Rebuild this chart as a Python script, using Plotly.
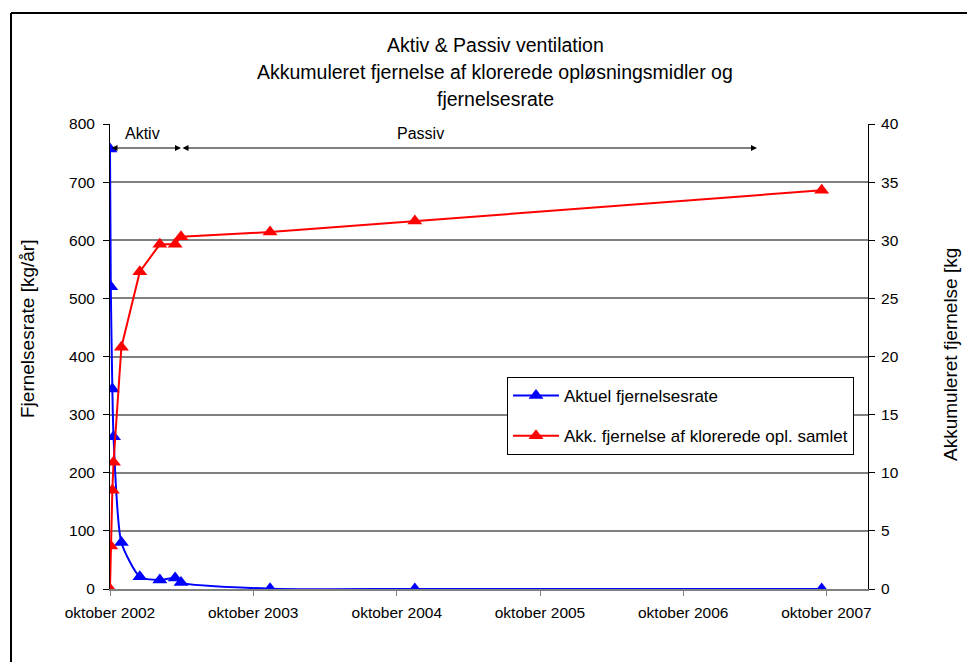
import plotly.graph_objects as go

# ---- data ----
dates = ['2002-10-01', '2002-10-03', '2002-10-07', '2002-10-10', '2002-10-30',
         '2002-12-16', '2003-02-05', '2003-03-16', '2003-03-31', '2003-11-13',
         '2004-11-16', '2007-09-19']
rate = [757, 520, 344, 262, 80, 21, 15.5, 19, 11, 0.5, 0, 0]
accum = [0, 3.7, 8.5, 10.9, 20.8, 27.3, 29.65, 29.65, 30.3, 30.7, 31.65, 34.3]
tick_dates = ['2002-10-01', '2003-10-01', '2004-10-01', '2005-10-01', '2006-10-01', '2007-10-01']
tick_labels = ['oktober 2002', 'oktober 2003', 'oktober 2004', 'oktober 2005',
               'oktober 2006', 'oktober 2007']
aktiv_start = '2002-10-01'
aktiv_end = '2003-03-31'
passiv_end = '2007-04-07'
series_names = ['Aktuel fjernelsesrate', 'Akk. fjernelse af klorerede opl. samlet']
title_lines = ['Aktiv & Passiv ventilation',
               'Akkumuleret fjernelse af klorerede opløsningsmidler og',
               'fjernelsesrate']

FONT = 'Arial, Liberation Sans, sans-serif'

fig = go.Figure()
fig.add_trace(go.Scatter(
    x=dates, y=rate, name=series_names[0], mode='lines+markers',
    line=dict(color='#0000FF', width=2, shape='spline', smoothing=0.6),
    marker=dict(symbol='triangle-up', size=13, color='#0000FF'),
    legendgroup='a', yaxis='y'))
fig.add_trace(go.Scatter(
    x=dates, y=accum, name=series_names[1], mode='lines+markers',
    line=dict(color='#FF0000', width=2),
    marker=dict(symbol='triangle-up', size=13, color='#FF0000'),
    legendgroup='b', yaxis='y2'))

L, R, T, B = 110, 99, 124, 73
W, H = 967, 662
pw, ph = W - L - R, H - T - B


def px(x):
    return (x - L) / pw


def py(y):
    return (H - B - y) / ph


fig.update_layout(
    width=W, height=H,
    margin=dict(l=L, r=R, t=T, b=B),
    paper_bgcolor='white', plot_bgcolor='white',
    font=dict(family=FONT, size=16, color='black'),
    xaxis=dict(type='date', range=['2002-10-01', '2008-01-15'],
               tickvals=tick_dates, ticktext=tick_labels,
               showgrid=False, showline=True, linecolor='#808080', linewidth=2,
               ticks='outside', ticklen=5, tickcolor='#808080', zeroline=False,
               tickfont=dict(size=15.5), ticklabelstandoff=3),
    yaxis=dict(range=[0, 800], dtick=100, showgrid=True, gridcolor='#808080', gridwidth=1.5,
               showline=True, linecolor='black', linewidth=1, ticks='outside', ticklen=6,
               tickcolor='black', zeroline=False, tickfont=dict(size=15.5),
               ticklabelstandoff=5),
    yaxis2=dict(range=[0, 40], dtick=5, overlaying='y', side='right', showgrid=False,
                showline=True, linecolor='black', linewidth=1, ticks='outside', ticklen=6,
                tickcolor='black', zeroline=False, tickfont=dict(size=15.5),
                ticklabelstandoff=3),
    legend=dict(x=px(507), y=py(377), xanchor='left', yanchor='top',
                bordercolor='black', borderwidth=1, bgcolor='white',
                font=dict(size=17), tracegroupgap=15, traceorder='grouped',
                itemwidth=46),
    showlegend=True,
)

# chart titles
for i, line in enumerate(title_lines):
    fig.add_annotation(x=px(495), y=py(45 + 27 * i), xref='paper', yref='paper', text=line,
                       showarrow=False, xanchor='center', yanchor='middle', font=dict(size=19.5))

# axis titles
fig.add_annotation(x=px(27), y=py(329), xref='paper', yref='paper', text='Fjernelsesrate [kg/år]',
                   showarrow=False, textangle=-90, xanchor='center', yanchor='middle',
                   font=dict(size=19))
fig.add_annotation(x=px(950), y=py(355), xref='paper', yref='paper', text='Akkumuleret fjernelse [kg',
                   showarrow=False, textangle=-90, xanchor='center', yanchor='middle',
                   font=dict(size=19))

# frame around the chart (top and left visible)
fig.add_shape(type='line', xref='paper', yref='paper', x0=px(11), x1=px(970), y0=py(13), y1=py(13),
              line=dict(color='black', width=2))
fig.add_shape(type='line', xref='paper', yref='paper', x0=px(11), x1=px(11), y0=py(13), y1=py(665),
              line=dict(color='black', width=2))

# phase arrows
y_arrow = 758.7
for (a, b) in [(aktiv_start, aktiv_end), (aktiv_end, passiv_end)]:
    fig.add_annotation(x=b, y=y_arrow, ax=a, ay=y_arrow, xref='x', yref='y', axref='x', ayref='y',
                       showarrow=True, arrowhead=2, startarrowhead=2, arrowside='end+start',
                       arrowsize=1, arrowwidth=1.2, arrowcolor='black', text='')
fig.add_annotation(x=px(123), y=py(133), xref='paper', yref='paper', text='Aktiv', showarrow=False,
                   xanchor='left', yanchor='middle', font=dict(size=16))
fig.add_annotation(x=px(420), y=py(133), xref='paper', yref='paper', text='Passiv', showarrow=False,
                   xanchor='center', yanchor='middle', font=dict(size=16))

fig.write_html('out.html')
